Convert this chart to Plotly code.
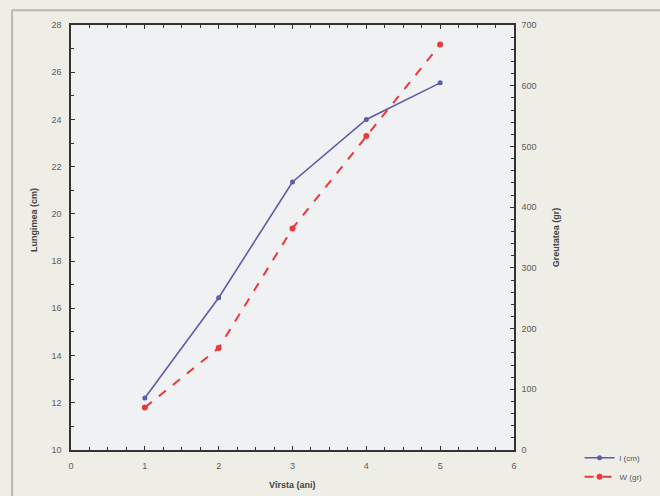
import plotly.graph_objects as go

ages = [1, 2, 3, 4, 5]
length_cm = [12.2, 16.45, 21.35, 24.0, 25.55]
weight_gr = [70, 168, 365, 517, 668]

x_ticks = [0, 1, 2, 3, 4, 5, 6]
left_ticks = [10, 12, 14, 16, 18, 20, 22, 24, 26, 28]
right_ticks = [0, 100, 200, 300, 400, 500, 600, 700]

BLUE = "#5b5eab"
RED = "#e8393c"
TICKFONT = dict(family="Liberation Sans, Arial", size=9, color="#5e5e5e")

fig = go.Figure()
fig.add_trace(go.Scatter(
    x=ages, y=length_cm, name="l (cm)", mode="lines+markers",
    line=dict(color=BLUE, width=1.6),
    marker=dict(color=BLUE, size=5, symbol="circle"),
))
fig.add_trace(go.Scatter(
    x=ages, y=weight_gr, name="W (gr)", mode="lines+markers", yaxis="y2",
    line=dict(color=RED, width=2, dash="dash"),
    marker=dict(color=RED, size=6, symbol="circle"),
))

fig.update_layout(
    width=660, height=496,
    margin=dict(l=71, r=146, t=25, b=46, autoexpand=False),
    paper_bgcolor="#eeede6",
    plot_bgcolor="#f0f1f3",
    showlegend=True,
    legend=dict(
        x=1.148, y=0.016, xanchor="left", yanchor="top",
        bgcolor="rgba(0,0,0,0)", font=dict(family="Liberation Sans, Arial", size=8, color="#555"),
        tracegroupgap=0, itemwidth=30,
    ),
    xaxis=dict(
        range=[0, 6], tickvals=x_ticks, ticktext=[str(v) for v in x_ticks],
        showgrid=False, zeroline=False, showline=True, linecolor="#333", linewidth=1.5,
        mirror="ticks", ticks="inside", ticklen=4, tickcolor="#333",
        minor=dict(dtick=0.25, ticks="inside", ticklen=3, tickcolor="#333"),
        tickfont=TICKFONT, ticklabelstandoff=6,
    ),
    yaxis=dict(
        range=[10, 28], tickvals=left_ticks, ticktext=[str(v) for v in left_ticks],
        showgrid=False, zeroline=False, showline=True, linecolor="#333", linewidth=1.5,
        ticks="inside", ticklen=4, tickcolor="#333",
        minor=dict(dtick=1, ticks="inside", ticklen=3, tickcolor="#333"),
        tickfont=TICKFONT, ticklabelstandoff=6,
    ),
    yaxis2=dict(
        overlaying="y", side="right", range=[0, 700],
        tickvals=right_ticks, ticktext=[str(v) for v in right_ticks],
        showgrid=False, zeroline=False, showline=True, linecolor="#333", linewidth=1.5,
        ticks="inside", ticklen=4, tickcolor="#333",
        minor=dict(dtick=20, ticks="inside", ticklen=3, tickcolor="#333"),
        tickfont=TICKFONT, ticklabelstandoff=4,
    ),
    annotations=[
        dict(text="<b>Lungimea (cm)</b>", x=-0.098, y=0.54, xref="paper", yref="paper",
             textangle=-90, showarrow=False, font=dict(family="Liberation Sans, Arial", size=9, color="#444")),
        dict(text="<b>Greutatea (gr)</b>", x=1.11, y=0.5, xref="paper", yref="paper",
             textangle=-90, showarrow=False, font=dict(family="Liberation Sans, Arial", size=9, color="#444")),
        dict(text="<b>Vîrsta (ani)</b>", x=0.5, y=-0.082, xref="paper", yref="paper",
             showarrow=False, yanchor="middle", font=dict(family="Liberation Sans, Arial", size=9, color="#444")),
    ],
    shapes=[
        dict(type="line", xref="paper", yref="paper", x0=-0.133, x1=1.5, y0=1.035, y1=1.035,
             line=dict(color="#b8b8b4", width=2), layer="below"),
        dict(type="line", xref="paper", yref="paper", x0=-0.133, x1=-0.133, y0=-0.2, y1=1.035,
             line=dict(color="#b8b8b4", width=2), layer="below"),
    ],
)

fig.write_html("out.html")
